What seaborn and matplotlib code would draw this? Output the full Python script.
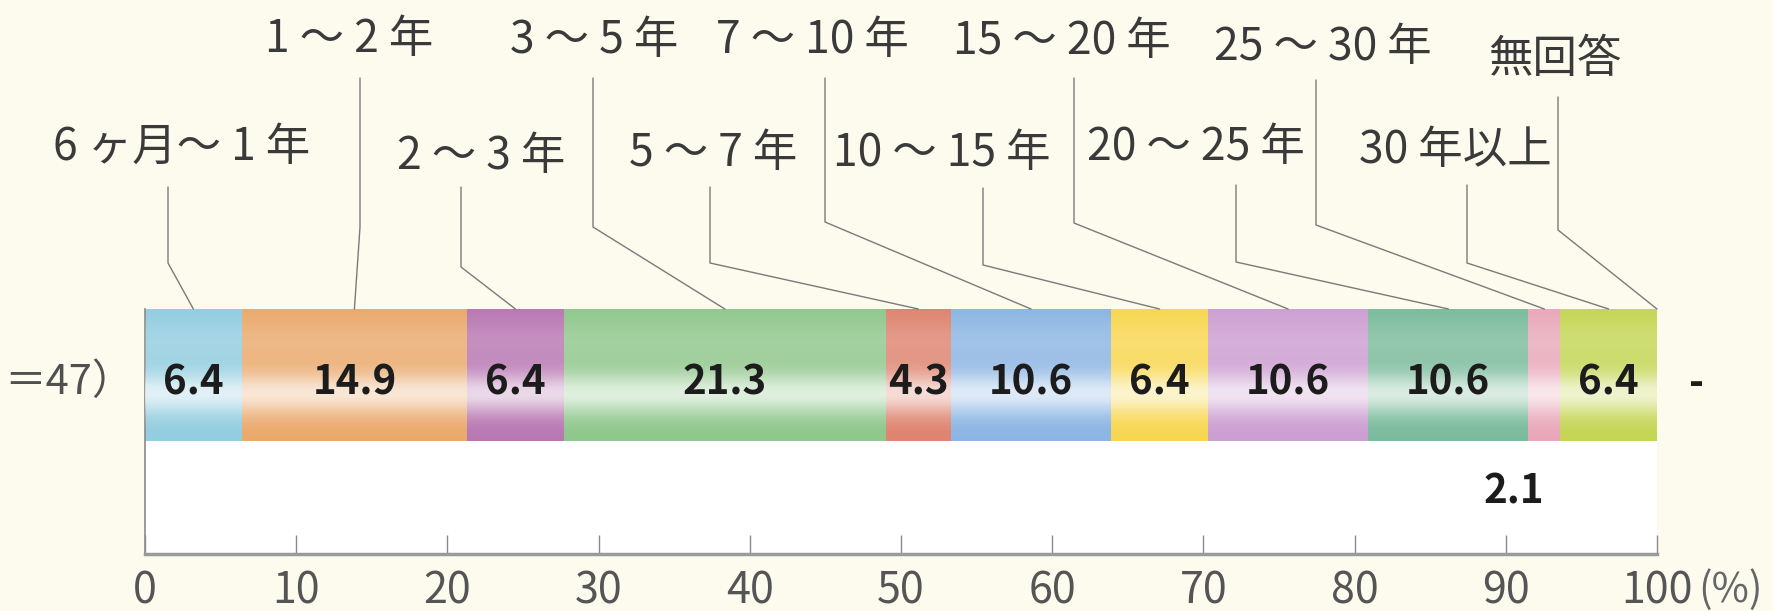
import numpy as np
import pandas as pd
import matplotlib
matplotlib.use("Agg")
import matplotlib.pyplot as plt
import seaborn as sns
from matplotlib.lines import Line2D

# ---------------- data ----------------
categories = ['6 ヶ月～ 1 年', '1 ～ 2 年', '2 ～ 3 年', '3 ～ 5 年', '5 ～ 7 年', '7 ～ 10 年',
              '10 ～ 15 年', '15 ～ 20 年', '20 ～ 25 年', '25 ～ 30 年', '30 年以上', '無回答']
values = [6.4, 14.9, 6.4, 21.3, 4.3, 10.6, 6.4, 10.6, 10.6, 2.1, 6.4, 0.0]
value_labels = ['6.4', '14.9', '6.4', '21.3', '4.3', '10.6', '6.4', '10.6', '10.6', '2.1', '6.4', '-']
row_label = '＝47）'
x_ticks = [0, 10, 20, 30, 40, 50, 60, 70, 80, 90, 100]
x_unit = '(%)'

# ---------------- styles / layout ----------------
colors = ['#92cde0', '#eaa96c', '#b877b2', '#90c78c', '#de8470', '#8cb5e3',
          '#f7d750', '#cc9ed1', '#7bbb9c', '#e9a8ba', '#c4d654', '#bbbbbb']
W, H = 1774, 611
# label centres and leader-line geometry in pixels (y from top)
label_x = [182, 349, 481, 594, 713, 812, 942, 1062, 1196, 1323, 1455, 1555]
label_y = [147, 39, 156, 40, 153, 40, 153, 41, 147, 47, 150, 59]
line_x = [168, 360, 461, 593, 710, 825, 983, 1074, 1236, 1316, 1467, 1558]
line_top = [187, 78, 187, 78, 187, 78, 188, 78, 185, 80, 185, 97]
line_knee = [263, 227, 267, 227, 263, 222, 265, 223, 262, 225, 263, 230]

sns.set_theme(style="white")
plt.rcParams['font.family'] = ['Noto Sans CJK JP', 'DejaVu Sans']

bg = '#fdfbee'
fig = plt.figure(figsize=(W / 100, H / 100), dpi=100, facecolor=bg)
ax_left, ax_right, ax_top, ax_bottom = 145, 1657, 309, 554
ax = fig.add_axes([ax_left / W, 1 - ax_bottom / H, (ax_right - ax_left) / W, (ax_bottom - ax_top) / H])
ax.set_facecolor('white')

df = pd.DataFrame({'cat': categories, 'end': np.cumsum(values), 'row': ['n'] * len(categories)})
sns.barplot(data=df, x='end', y='row', hue='cat', hue_order=categories[::-1],
            palette=dict(zip(categories, colors)), dodge=False, saturation=1,
            legend=False, errorbar=None, orient='h', width=0.8, ax=ax, linewidth=0)

bar_half = 0.4
ylim_bottom = -bar_half + 2 * bar_half * (ax_bottom - ax_top) / (441 - ax_top)

# gradient sheen across the bar
n = 200
t = np.linspace(0, 1, n)
alpha = 0.72 * np.exp(-((t - 0.64) / 0.16) ** 2) + 0.18 * np.exp(-((t - 0.25) / 0.18) ** 2)
rgba = np.ones((n, 1, 4))
rgba[:, 0, 3] = np.clip(alpha, 0, 1)
total = float(np.sum(values))
ax.imshow(rgba, extent=(0, total, bar_half, -bar_half), aspect='auto', origin='upper',
          zorder=3, interpolation='bilinear')

ax.set_xlim(0, 100)
ax.set_ylim(ylim_bottom, -bar_half)
ax.set_xticks(x_ticks)
ax.set_xticklabels([str(v) for v in x_ticks])
ax.set_yticks([])
ax.set_xlabel('')
ax.set_ylabel('')
for s in ['top', 'right']:
    ax.spines[s].set_visible(False)
ax.spines['left'].set_color('#8a8a8a')
ax.spines['left'].set_linewidth(1.2)
ax.spines['bottom'].set_color('#9a9a9a')
ax.spines['bottom'].set_linewidth(2.5)
ax.tick_params(axis='x', direction='in', length=14, width=1.0, color='#8a8a8a',
               labelsize=31, labelcolor='#555555', pad=11, bottom=True)

# value labels
ends = np.cumsum(values)
starts = ends - np.array(values)
centers = (starts + ends) / 2
for i, (v, lab) in enumerate(zip(values, value_labels)):
    if v >= 3:
        ax.text(centers[i], 0.05, lab, ha='center', va='center', fontsize=29,
                fontweight='bold', color='#1c1c1c', zorder=5)
    elif v > 0:
        ax.text(centers[i], 0.71, lab, ha='right', va='center', fontsize=29,
                fontweight='bold', color='#1c1c1c', zorder=5)
    else:
        ax.text(ends[i] + 2.6, 0.05, lab, ha='center', va='center', fontsize=29,
                fontweight='bold', color='#1c1c1c', zorder=5, clip_on=False)

# leader lines and category labels
inv = fig.transFigure.inverted()
for i, cat in enumerate(categories):
    end_disp = ax.transData.transform((centers[i], -bar_half))
    ex, ey = inv.transform(end_disp)
    xs = [line_x[i] / W, line_x[i] / W, ex]
    ys = [1 - line_top[i] / H, 1 - line_knee[i] / H, ey]
    fig.add_artist(Line2D(xs, ys, color='#7a7a7a', lw=1.0, transform=fig.transFigure))
    fig.text(label_x[i] / W, 1 - label_y[i] / H, cat, ha='center', va='center',
             fontsize=32, color='#3a3a3a')

fig.text(4 / W, 1 - 382 / H, row_label, ha='left', va='center', fontsize=30, color='#505050')
fig.text(1698 / W, 1 - 590 / H, x_unit, ha='left', va='center', fontsize=29, color='#666666')

fig.savefig('out.png', dpi=100, facecolor=bg)
